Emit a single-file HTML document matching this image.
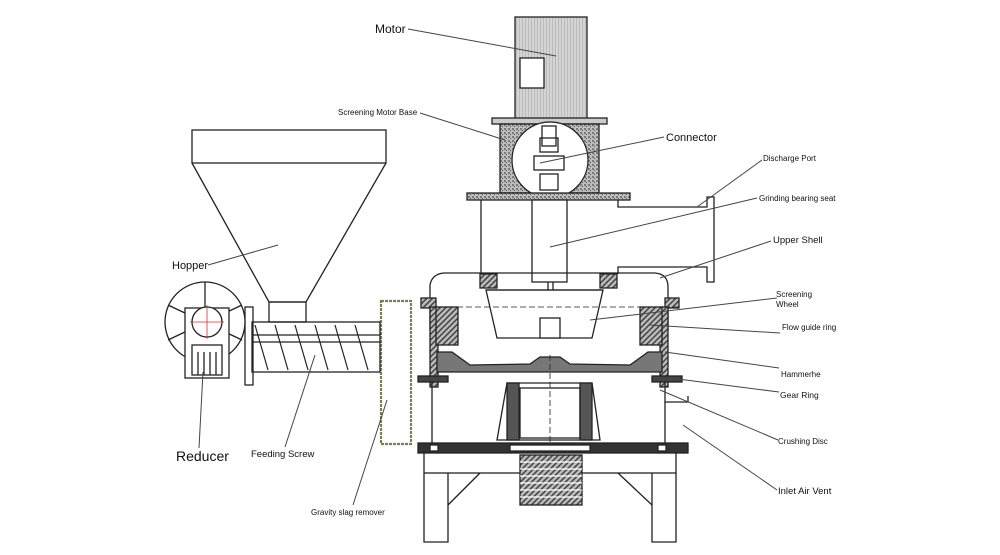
<!DOCTYPE html>
<html><head><meta charset="utf-8"><style>
html,body{margin:0;padding:0;background:#fff}
svg{display:block}
text{font-family:"Liberation Sans",sans-serif;fill:#111}
</style></head><body>
<svg width="1000" height="555" viewBox="0 0 1000 555" xmlns="http://www.w3.org/2000/svg">
<defs>
<pattern id="sp" width="4" height="4" patternUnits="userSpaceOnUse"><rect width="4" height="4" fill="#bdbdbd"/><rect x="0" y="0" width="2" height="2" fill="#7a7a7a"/><rect x="2" y="2" width="1" height="1" fill="#555"/></pattern>
<pattern id="mg" width="3" height="3" patternUnits="userSpaceOnUse"><rect width="3" height="3" fill="#d4d4d4"/><rect width="1" height="3" fill="#bbb"/></pattern>
<pattern id="ht" width="4" height="4" patternUnits="userSpaceOnUse" patternTransform="rotate(45)"><rect width="4" height="4" fill="#bbb"/><rect width="1.5" height="4" fill="#444"/></pattern>
</defs>
<g fill="none" stroke="#222" stroke-width="1.3">
<rect x="515" y="17" width="72" height="102" fill="url(#mg)"/>
<rect x="520" y="58" width="24" height="30" fill="#fff"/>
<rect x="492" y="118" width="115" height="6" fill="#ccc"/>
<rect x="500" y="124" width="99" height="69" fill="url(#sp)"/>
<circle cx="550" cy="160" r="38" fill="#fff"/>
<rect x="542" y="126" width="14" height="20" fill="#fff"/>
<rect x="540" y="138" width="18" height="14"/>
<rect x="534" y="156" width="30" height="14" fill="#fff"/>
<rect x="540" y="174" width="18" height="16"/>
<rect x="467" y="193" width="163" height="7" fill="url(#sp)"/>
<line x1="481" y1="200" x2="481" y2="278"/>
<rect x="532" y="200" width="35" height="82" fill="#fff"/>
<line x1="548" y1="282" x2="548" y2="322"/><line x1="553" y1="282" x2="553" y2="322"/>
<polyline points="618,200 618,207 707,207 707,197 714,197 714,282 707,282 707,267 618,267 618,274"/>
<path d="M430,330 L430,285 Q432,274 444,273 L655,273 Q668,274 668,287 L668,330"/>
<rect x="421" y="298" width="15" height="10" fill="url(#ht)"/>
<rect x="665" y="298" width="14" height="10" fill="url(#ht)"/>
<rect x="480" y="274" width="17" height="14" fill="url(#ht)"/>
<rect x="600" y="274" width="17" height="14" fill="url(#ht)"/>
<path d="M486,290 L497,338 L592,338 L603,290 Z" fill="#fff"/>
<line x1="486" y1="290" x2="603" y2="290"/>
<line x1="448" y1="307" x2="680" y2="307" stroke-dasharray="6 3" stroke-width="0.8"/>
<rect x="540" y="318" width="20" height="20" fill="#fff"/>
<rect x="430" y="307" width="8" height="80" fill="url(#ht)"/>
<rect x="660" y="307" width="8" height="80" fill="url(#ht)"/>
<rect x="436" y="307" width="22" height="38" fill="url(#ht)"/>
<rect x="640" y="307" width="22" height="38" fill="url(#ht)"/>
<path d="M437,352 L452,352 L470,365 L530,364 L540,357 L560,357 L570,364 L630,365 L648,352 L662,352 L662,372 L437,372 Z" fill="#777"/>
<rect x="418" y="376" width="30" height="6" fill="#444"/>
<rect x="652" y="376" width="30" height="6" fill="#444"/>
<polyline points="665,382 665,402 688,402 688,396"/>
<line x1="432" y1="382" x2="432" y2="443"/><line x1="665" y1="402" x2="665" y2="443"/>
<path d="M507,383 L592,383 L600,440 L497,440 Z" fill="#fff"/>
<rect x="507" y="383" width="12" height="57" fill="#555"/>
<rect x="580" y="383" width="12" height="57" fill="#555"/>
<rect x="520" y="388" width="60" height="50"/>
<line x1="550" y1="355" x2="550" y2="500" stroke-dasharray="6 3" stroke-width="0.8"/>
<rect x="418" y="443" width="270" height="10" fill="#333"/>
<rect x="430" y="445" width="8" height="6" fill="#fff"/>
<rect x="658" y="445" width="8" height="6" fill="#fff"/>
<rect x="510" y="445" width="80" height="6" fill="#fff"/>
<rect x="424" y="453" width="252" height="20" fill="#fff"/>
<rect x="520" y="455" width="62" height="50" fill="url(#ht)"/>
<g stroke="#fff" stroke-width="1.2"><line x1="520" y1="462" x2="582" y2="462"/><line x1="520" y1="469" x2="582" y2="469"/><line x1="520" y1="476" x2="582" y2="476"/><line x1="520" y1="483" x2="582" y2="483"/><line x1="520" y1="490" x2="582" y2="490"/><line x1="520" y1="497" x2="582" y2="497"/></g>
<polyline points="424,473 424,542 448,542 448,473"/>
<polyline points="652,473 652,542 676,542 676,473"/>
<line x1="448" y1="505" x2="480" y2="473"/><line x1="652" y1="505" x2="618" y2="473"/>
<rect x="381" y="301" width="30" height="143" fill="#fff" stroke="#7d7d5a" stroke-width="2.2" stroke-dasharray="3 1"/>
<rect x="192" y="130" width="194" height="33"/>
<polyline points="192,163 269,302 306,302 386,163"/>
<rect x="269" y="302" width="37" height="20"/>
<rect x="252" y="322" width="128" height="50"/>
<rect x="245" y="307" width="8" height="78"/>
<line x1="252" y1="335" x2="380" y2="335"/><line x1="252" y1="342" x2="380" y2="342"/>
<g stroke-width="1.2"><line x1="255" y1="325" x2="268" y2="370"/><line x1="275" y1="325" x2="288" y2="370"/><line x1="295" y1="325" x2="308" y2="370"/><line x1="315" y1="325" x2="328" y2="370"/><line x1="335" y1="325" x2="348" y2="370"/><line x1="355" y1="325" x2="368" y2="370"/></g>
<circle cx="205" cy="322" r="40" fill="#fff"/>
<line x1="205" y1="282" x2="205" y2="362"/><line x1="168" y1="305" x2="242" y2="340"/><line x1="168" y1="340" x2="242" y2="305"/>
<rect x="185" y="308" width="44" height="70" fill="#fff"/>
<circle cx="207" cy="322" r="15" fill="#fff"/>
<line x1="190" y1="322" x2="224" y2="322" stroke="#c33" stroke-width="0.8"/><line x1="207" y1="305" x2="207" y2="339" stroke="#c33" stroke-width="0.8"/>
<rect x="192" y="345" width="30" height="30" fill="#fff"/>
<line x1="198" y1="352" x2="198" y2="375"/><line x1="204" y1="352" x2="204" y2="375"/><line x1="210" y1="352" x2="210" y2="375"/><line x1="216" y1="352" x2="216" y2="375"/>
</g>
<g stroke="#444" stroke-width="1" fill="none">
<line x1="408" y1="29" x2="556" y2="56"/>
<line x1="420" y1="113" x2="505" y2="140"/>
<line x1="664" y1="137" x2="540" y2="163"/>
<line x1="762" y1="160" x2="697" y2="207"/>
<line x1="757" y1="198" x2="550" y2="247"/>
<line x1="771" y1="241" x2="660" y2="278"/>
<line x1="777" y1="298" x2="590" y2="320"/>
<line x1="780" y1="333" x2="650" y2="325"/>
<line x1="779" y1="368" x2="665" y2="352"/>
<line x1="779" y1="392" x2="670" y2="378"/>
<line x1="778" y1="440" x2="660" y2="390"/>
<line x1="777" y1="490" x2="683" y2="425"/>
<line x1="208" y1="265" x2="278" y2="245"/>
<line x1="199" y1="448" x2="203" y2="372"/>
<line x1="285" y1="447" x2="315" y2="355"/>
<line x1="353" y1="505" x2="387" y2="400"/>
</g>
<text x="375" y="33" font-size="12">Motor</text>
<text x="338" y="115" font-size="8">Screening Motor Base</text>
<text x="666" y="141" font-size="11">Connector</text>
<text x="763" y="161" font-size="8">Discharge Port</text>
<text x="759" y="201" font-size="8">Grinding bearing seat</text>
<text x="773" y="243" font-size="9.5">Upper Shell</text>
<text x="776" y="297" font-size="8">Screening</text>
<text x="776" y="307" font-size="8">Wheel</text>
<text x="782" y="330" font-size="8">Flow guide ring</text>
<text x="781" y="377" font-size="8">Hammerhe</text>
<text x="780" y="398" font-size="8.5">Gear Ring</text>
<text x="778" y="444" font-size="8">Crushing Disc</text>
<text x="778" y="494" font-size="9.5">Inlet Air Vent</text>
<text x="172" y="269" font-size="11">Hopper</text>
<text x="176" y="461" font-size="14">Reducer</text>
<text x="251" y="457" font-size="9.5">Feeding Screw</text>
<text x="311" y="515" font-size="8">Gravity slag remover</text>
</svg>
</body></html>
